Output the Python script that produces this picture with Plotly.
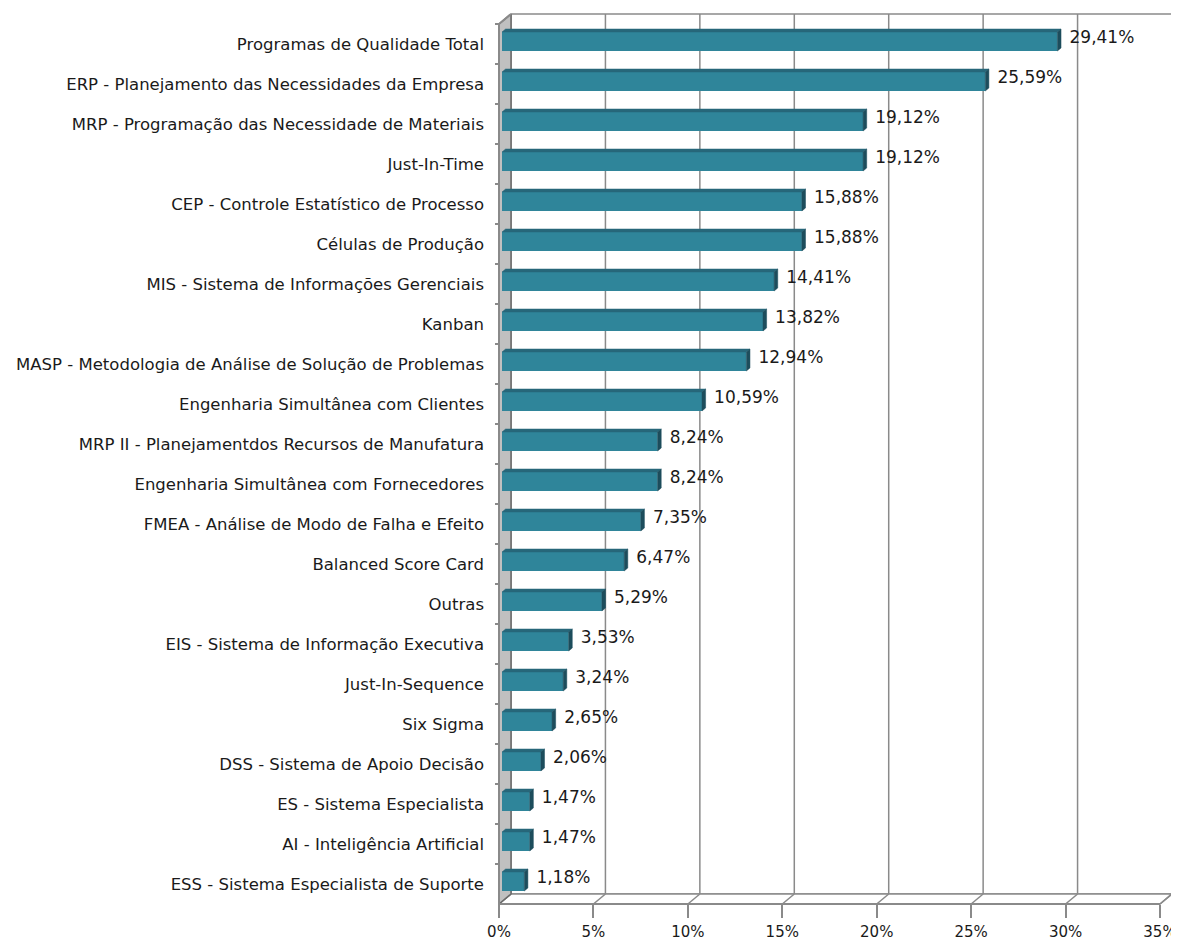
import plotly.graph_objects as go

# dados (% de empresas que usam cada ferramenta)
categorias = [
    "Programas de Qualidade Total",
    "ERP - Planejamento das Necessidades da Empresa",
    "MRP - Programação das Necessidade de Materiais",
    "Just-In-Time",
    "CEP - Controle Estatístico de Processo",
    "Células de Produção",
    "MIS - Sistema de Informações Gerenciais",
    "Kanban",
    "MASP - Metodologia de Análise de Solução de Problemas",
    "Engenharia Simultânea com Clientes",
    "MRP II - Planejamentdos Recursos de Manufatura",
    "Engenharia Simultânea com Fornecedores",
    "FMEA - Análise de Modo de Falha e Efeito",
    "Balanced Score Card",
    "Outras",
    "EIS - Sistema de Informação Executiva",
    "Just-In-Sequence",
    "Six Sigma",
    "DSS - Sistema de Apoio Decisão",
    "ES - Sistema Especialista",
    "AI - Inteligência Artificial",
    "ESS - Sistema Especialista de Suporte",
]
valores = [29.41, 25.59, 19.12, 19.12, 15.88, 15.88, 14.41, 13.82, 12.94, 10.59,
           8.24, 8.24, 7.35, 6.47, 5.29, 3.53, 3.24, 2.65, 2.06, 1.47, 1.47, 1.18]
ticks_x = [0, 5, 10, 15, 20, 25, 30, 35]
ticks_x_txt = ["0%", "5%", "10%", "15%", "20%", "25%", "30%", "35%"]

rotulos = [f"{v:.2f}%".replace(".", ",") for v in valores]
n = len(categorias)
xmax = ticks_x[-1]

# a página tem 8px de margem no body
OFF = 8
FIG_W, FIG_H = 1179 - OFF, 942 - OFF

# escala: pixels por unidade (para o efeito 3D)
PX = 661 / 35
PY = 40
DX, DY = 12 / PX, 10 / PY          # profundidade da caixa
FX, FY = 3 / PX, 2.5 / PY          # face frontal da barra
BX, BY = 3.6 / PX, 3.0 / PY        # profundidade da barra
W = 0.475

COR_FRENTE = "#2F859A"
COR_TOPO = "#27677A"
COR_LADO = "#1D4D5C"
COR_LINHA = "#8a8a8a"

fig = go.Figure()

topo_y = -0.5 - DY
fundo_y = n - 0.5 - DY
base_y = n - 0.5

# --- caixa 3D (eixo y numérico de baixo) ---
fig.add_trace(go.Scatter(
    x=[DX, xmax + DX, xmax + DX, DX, DX],
    y=[topo_y, topo_y, fundo_y, fundo_y, topo_y],
    fill="toself", fillcolor="white", mode="lines",
    line=dict(color=COR_LINHA, width=1.5), hoverinfo="skip", showlegend=False))

gx, gy = [], []
for t in ticks_x[1:]:
    gx += [t + DX, t + DX, None]
    gy += [topo_y, fundo_y, None]
fig.add_trace(go.Scatter(x=gx, y=gy, mode="lines", line=dict(color=COR_LINHA, width=1.5),
                         hoverinfo="skip", showlegend=False))

fig.add_trace(go.Scatter(
    x=[0, xmax, xmax + DX, DX, 0],
    y=[base_y, base_y, fundo_y, fundo_y, base_y],
    fill="toself", fillcolor="white", mode="lines",
    line=dict(color=COR_LINHA, width=1.5), hoverinfo="skip", showlegend=False))
px_, py_ = [], []
for t in ticks_x:
    px_ += [t, t + DX, None]
    py_ += [base_y, fundo_y, None]
fig.add_trace(go.Scatter(x=px_, y=py_, mode="lines", line=dict(color=COR_LINHA, width=1.5),
                         hoverinfo="skip", showlegend=False))

fig.add_trace(go.Scatter(
    x=[0, DX, DX, 0, 0],
    y=[-0.5, topo_y, fundo_y, base_y, -0.5],
    fill="toself", fillcolor="#c0c0c0", mode="lines",
    line=dict(color="#6a6a6a", width=1.5), hoverinfo="skip", showlegend=False))

# --- face frontal das barras (eixo de categorias) ---
fig.add_trace(go.Bar(
    x=valores, y=categorias, base=FX, orientation="h", width=W,
    offset=-W / 2 - FY,
    marker=dict(color=COR_FRENTE, line=dict(width=0)),
    yaxis="y2", hoverinfo="skip", showlegend=False))

# --- topo e lado das barras, rótulos (eixo numérico de cima) ---
tx, ty, sx, sy = [], [], [], []
for i, v in enumerate(valores):
    yt = i - FY - W / 2
    yb = i - FY + W / 2
    tx += [FX, v + FX, v + FX + BX, FX + BX, FX, None]
    ty += [yt, yt, yt - BY, yt - BY, yt, None]
    sx += [v + FX, v + FX + BX, v + FX + BX, v + FX, v + FX, None]
    sy += [yt, yt - BY, yb - BY, yb, yt, None]

fig.add_trace(go.Scatter(x=tx, y=ty, fill="toself", fillcolor=COR_TOPO, mode="lines",
                         line=dict(color=COR_TOPO, width=0.5), yaxis="y3",
                         hoverinfo="skip", showlegend=False))
fig.add_trace(go.Scatter(x=sx, y=sy, fill="toself", fillcolor=COR_LADO, mode="lines",
                         line=dict(color=COR_LADO, width=0.5), yaxis="y3",
                         hoverinfo="skip", showlegend=False))

fig.add_trace(go.Scatter(x=[0, DX, None, 0, 0, xmax], y=[-0.5, topo_y, None, -0.5, base_y, base_y],
                         mode="lines", line=dict(color=COR_LINHA, width=2),
                         yaxis="y3", hoverinfo="skip", showlegend=False))

fig.add_trace(go.Scatter(
    x=[v + FX + BX + 0.45 for v in valores],
    y=[i - 0.125 for i in range(n)],
    text=rotulos, mode="text", textposition="middle right",
    textfont=dict(family="DejaVu Sans", size=17, color="#1a1a1a"),
    cliponaxis=False, yaxis="y3", hoverinfo="skip", showlegend=False))

# posições em pixels da página -> figura
X0 = 499 - OFF          # x = 0 no eixo frontal
Y0 = 44 - OFF           # centro da primeira categoria
L, R, T, B = 490 - OFF, 1178 - OFF, 8 - OFF, 912 - OFF
x_range = [(L - X0) / PX, (R - X0) / PX]
y_range = [(B - Y0) / PY, (T - Y0) / PY]

fig.update_layout(
    width=FIG_W, height=FIG_H,
    margin=dict(l=L, r=FIG_W - R, t=T, b=FIG_H - B),
    paper_bgcolor="white", plot_bgcolor="white",
    font=dict(family="DejaVu Sans", color="#1a1a1a"),
    showlegend=False,
    xaxis=dict(range=x_range, anchor="free", position=(B - (904 - OFF)) / (B - T),
               tickvals=ticks_x, ticktext=ticks_x_txt, ticks="outside", ticklen=13,
               tickwidth=1.5, tickcolor=COR_LINHA, showgrid=False, zeroline=False,
               showline=False, tickfont=dict(size=15), automargin=False,
               ticklabelstandoff=1),
    yaxis=dict(range=y_range, visible=False, showgrid=False, zeroline=False),
    yaxis2=dict(type="category", categoryarray=categorias, range=y_range,
                overlaying="y", anchor="free", position=(X0 - L) / (R - L), side="left",
                ticks="outside", tickson="boundaries", ticklen=4, tickwidth=1.5,
                tickcolor=COR_LINHA, showgrid=False, zeroline=False, showline=False,
                tickfont=dict(size=16.5), automargin=False, ticklabelstandoff=15),
    yaxis3=dict(overlaying="y", range=y_range, visible=False, anchor="x",
                showgrid=False, zeroline=False),
)

fig.write_html("out.html")
